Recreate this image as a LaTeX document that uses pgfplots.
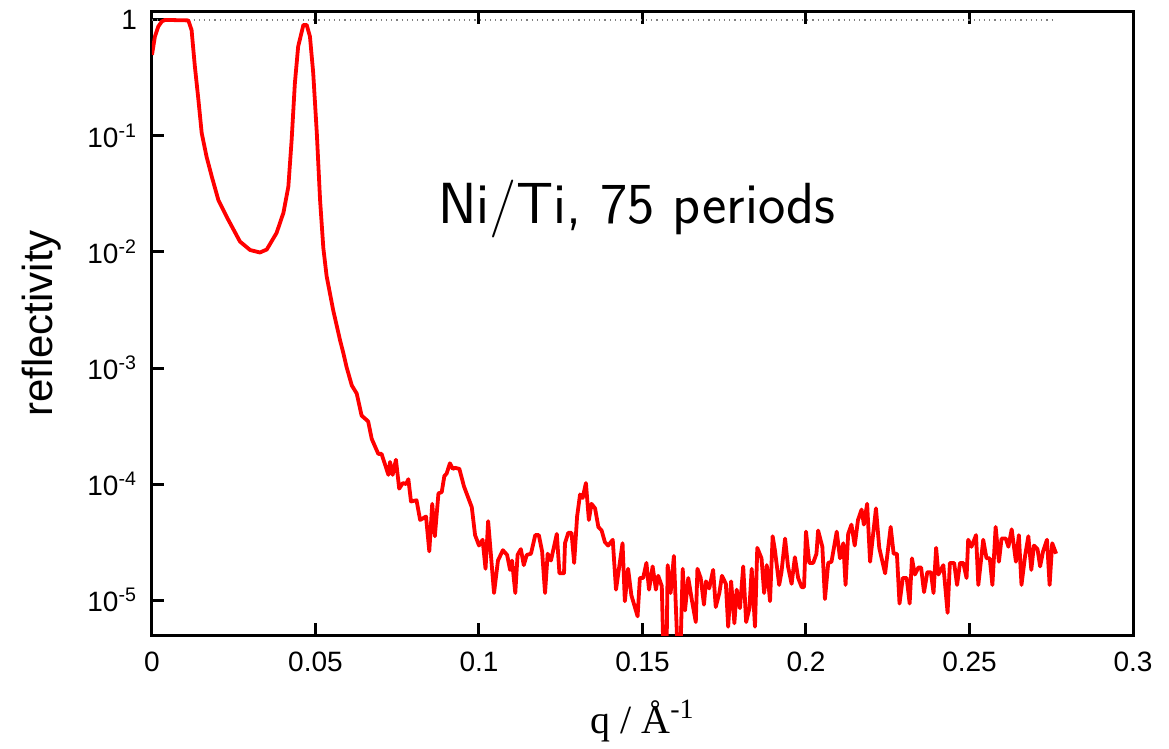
\documentclass[border=0pt]{standalone}
\usepackage{fontspec}
\setmainfont{Liberation Sans}
\newfontfamily\timesf{Liberation Serif}
\newfontfamily\lmsans{Latin Modern Sans}
\usepackage{pgfplots}
\pgfplotsset{compat=1.18}
\begin{document}
\begin{tikzpicture}
\begin{axis}[
  scale only axis,
  width=490.5pt, height=311.5pt,
  xmin=0, xmax=0.3,
  ymode=log, ymin=5e-6, ymax=1.17,
  axis line style={line width=1.5pt},
  every tick/.style={black, line width=1.5pt},
  major tick length=6pt,
  tick align=inside,
  xtick={0,0.05,0.1,0.15,0.2,0.25,0.3},
  xticklabels={0,0.05,0.1,0.15,0.2,0.25,0.3},
  xtick pos=both,
  ytick={1e-5,1e-4,1e-3,1e-2,1e-1,1},
  yticklabels={10\textsuperscript{-5},10\textsuperscript{-4},10\textsuperscript{-3},10\textsuperscript{-2},10\textsuperscript{-1},1},
  ytick pos=left,
  yminorticks=false,
  ticklabel style={font=\fontsize{14}{16}\selectfont},
  xticklabel style={yshift=-5pt},
  yticklabel style={xshift=-4pt},
  ylabel={reflectivity},
  ylabel style={font=\fontsize{21}{24}\selectfont, yshift=6pt},
  xlabel={{\timesf q / Å\textsuperscript{-1}}},
  xlabel style={font=\fontsize{20}{24}\selectfont, yshift=-7pt},
  clip=true,
]
\addplot[gray, dotted, line width=0.6pt] coordinates {(0,1) (0.2765,1)};
\addplot[red, line width=1.9pt, line join=round] coordinates {
(0.0000,0.50) (0.0009,0.72) (0.0019,0.875) (0.0030,0.97) (0.0040,1.0) (0.0111,0.99)
(0.0121,0.82) (0.0131,0.40) (0.0142,0.204) (0.0152,0.106) (0.0167,0.066) (0.0183,0.0445)
(0.0203,0.028) (0.0233,0.019) (0.0269,0.0123) (0.0300,0.0104) (0.0330,0.0099) (0.0351,0.0105)
(0.0381,0.0146) (0.0402,0.0218) (0.0417,0.0366) (0.0427,0.092) (0.0437,0.286) (0.0447,0.59)
(0.0463,0.905) (0.0473,0.905) (0.0483,0.72) (0.0493,0.35) (0.0504,0.106) (0.0514,0.028)
(0.0524,0.0108) (0.0534,0.0062) (0.0554,0.00316) (0.0575,0.00174) (0.0585,0.00135) (0.0595,0.00102)
(0.0611,0.000708) (0.0626,0.000603) (0.0641,0.000389) (0.0661,0.000347) (0.0672,0.000245) (0.0692,0.000182)
(0.0702,0.000182) (0.0723,0.000120) (0.0728,0.000155) (0.0736,0.000120) (0.0746,0.000162) (0.0756,0.0000912)
(0.0767,0.000102) (0.0777,0.000100) (0.0784,0.000110) (0.0792,0.0000708) (0.0809,0.0000724) (0.0820,0.0000490)
(0.0838,0.0000525) (0.0848,0.0000263) (0.0857,0.0000676) (0.0865,0.0000355) (0.0876,0.0000832) (0.0886,0.0000851)
(0.0894,0.000117) (0.0901,0.000123) (0.0911,0.000151) (0.0920,0.000135) (0.0927,0.000138) (0.0940,0.000135)
(0.0954,0.0000955) (0.0978,0.0000631) (0.0988,0.0000363) (0.1000,0.0000295) (0.1011,0.0000331) (0.1020,0.0000186)
(0.1028,0.0000479) (0.1046,0.0000115) (0.1058,0.0000219) (0.1073,0.0000269) (0.1086,0.0000245) (0.1095,0.0000182)
(0.1101,0.0000219) (0.1111,0.0000115) (0.1118,0.0000245) (0.1128,0.0000275) (0.1137,0.0000200) (0.1146,0.0000245)
(0.1159,0.0000251) (0.1172,0.0000363) (0.1183,0.0000363) (0.1193,0.0000263) (0.1202,0.0000115) (0.1210,0.0000251)
(0.1220,0.0000219) (0.1238,0.0000372) (0.1246,0.0000170) (0.1260,0.0000170) (0.1263,0.0000309) (0.1273,0.0000380)
(0.1283,0.0000380) (0.1291,0.0000209) (0.1300,0.0000525) (0.1309,0.0000813) (0.1317,0.0000759) (0.1327,0.000102)
(0.1336,0.0000490) (0.1344,0.0000676) (0.1355,0.0000617) (0.1365,0.0000427) (0.1375,0.0000398) (0.1385,0.0000316)
(0.1395,0.0000295) (0.1409,0.0000331) (0.1419,0.0000123) (0.1439,0.0000309) (0.1446,0.00000977) (0.1456,0.0000186)
(0.1466,0.0000110) (0.1485,0.00000724) (0.1492,0.0000155) (0.1502,0.0000155) (0.1512,0.0000209) (0.1520,0.0000123)
(0.1531,0.0000195) (0.1541,0.0000123) (0.1548,0.0000162) (0.1559,0.0000132) (0.1563,0.0000045) (0.1574,0.0000045)
(0.1577,0.0000200) (0.1586,0.0000115) (0.1596,0.0000240) (0.1606,0.0000045) (0.1617,0.0000045) (0.1623,0.0000186)
(0.1630,0.00000813) (0.1640,0.0000155) (0.1651,0.0000100) (0.1663,0.00000646) (0.1668,0.0000186) (0.1678,0.0000155)
(0.1688,0.00000912) (0.1694,0.0000145) (0.1704,0.0000126) (0.1716,0.0000182) (0.1724,0.00000871) (0.1735,0.0000115)
(0.1743,0.0000162) (0.1755,0.0000138) (0.1762,0.00000589) (0.1771,0.0000145) (0.1781,0.00000631) (0.1788,0.0000123)
(0.1798,0.00000851) (0.1808,0.0000195) (0.1817,0.00000646) (0.1827,0.00000851) (0.1834,0.0000186) (0.1844,0.00000589)
(0.1851,0.0000282) (0.1864,0.0000229) (0.1872,0.0000115) (0.1880,0.0000200) (0.1890,0.00000977) (0.1898,0.0000355)
(0.1905,0.0000269) (0.1918,0.0000135) (0.1925,0.0000174) (0.1936,0.0000339) (0.1945,0.0000195) (0.1956,0.0000138)
(0.1966,0.0000234) (0.1976,0.0000155) (0.1987,0.0000129) (0.1994,0.0000129) (0.2000,0.0000389) (0.2010,0.0000209)
(0.2022,0.0000209) (0.2032,0.0000251) (0.2037,0.0000398) (0.2050,0.0000288) (0.2058,0.0000102) (0.2068,0.0000209)
(0.2078,0.0000214) (0.2094,0.0000389) (0.2104,0.0000229) (0.2114,0.0000309) (0.2121,0.0000135) (0.2129,0.0000372)
(0.2139,0.0000447) (0.2149,0.0000295) (0.2159,0.0000490) (0.2170,0.0000603) (0.2177,0.0000447) (0.2187,0.0000676)
(0.2196,0.0000214) (0.2214,0.0000617) (0.2224,0.0000282) (0.2242,0.0000170) (0.2259,0.0000427) (0.2268,0.0000251)
(0.2278,0.0000251) (0.2286,0.00000933) (0.2296,0.0000155) (0.2308,0.0000155) (0.2317,0.00000933) (0.2324,0.0000229)
(0.2333,0.0000166) (0.2344,0.0000191) (0.2352,0.0000191) (0.2361,0.0000117) (0.2371,0.0000174) (0.2382,0.0000174)
(0.2390,0.0000115) (0.2398,0.0000282) (0.2405,0.0000166) (0.2420,0.0000200) (0.2433,0.00000776) (0.2440,0.0000209)
(0.2453,0.0000209) (0.2462,0.0000135) (0.2471,0.0000209) (0.2481,0.0000209) (0.2491,0.0000155) (0.2496,0.0000331)
(0.2506,0.0000288) (0.2520,0.0000363) (0.2527,0.0000135) (0.2542,0.0000331) (0.2552,0.0000229) (0.2562,0.0000229)
(0.2570,0.0000135) (0.2580,0.0000427) (0.2590,0.0000214) (0.2598,0.0000339) (0.2611,0.0000339) (0.2619,0.0000288)
(0.2629,0.0000407) (0.2642,0.0000214) (0.2651,0.0000363) (0.2659,0.0000135) (0.2670,0.0000240) (0.2680,0.0000355)
(0.2689,0.0000182) (0.2697,0.0000295) (0.2708,0.0000275) (0.2716,0.0000195) (0.2725,0.0000263) (0.2737,0.0000331)
(0.2745,0.0000135) (0.2753,0.0000309) (0.2765,0.0000251)
};
\node[font=\lmsans\fontsize{29}{33}\selectfont, anchor=center] at (axis cs:0.1483,0.0235) {Ni/Ti, 75 periods};
\coordinate (o) at (rel axis cs:0,0);
\end{axis}
\path (o) ++(-76pt,-54.5pt) rectangle ++(584.5pt,372pt);
\end{tikzpicture}
\end{document}
